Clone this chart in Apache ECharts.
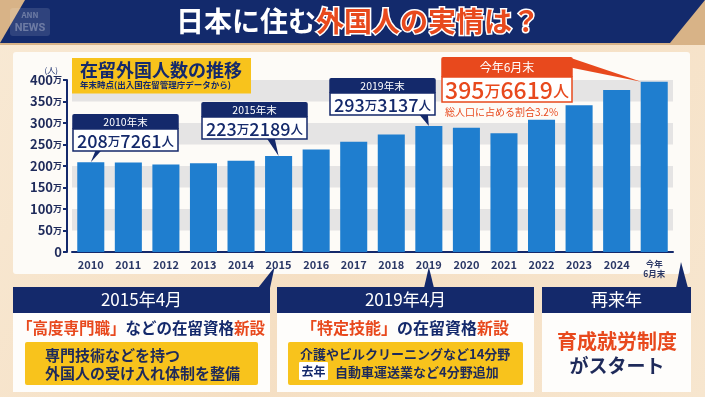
<!DOCTYPE html>
<html>
<head>
<meta charset="utf-8">
<script src="https://cdn.jsdelivr.net/npm/echarts@6/dist/echarts.min.js"></script>
<style>
  html, body { margin: 0; padding: 0; background: #f6e4cc; }
  #chart { width: 705px; height: 397px; }
</style>
</head>
<body>
<div id="chart"></div>
<script>
// 在留外国人数（万人）
const years = ['2010', '2011', '2012', '2013', '2014', '2015', '2016', '2017', '2018', '2019', '2020', '2021', '2022', '2023', '2024', '今年\n6月末']
const residents = [208.7, 207.9, 203.4, 206.6, 212.2, 223.2, 238.3, 256.2, 273.1, 293.3, 288.7, 276.1, 307.5, 341.1, 376.9, 395.7]
const yTicks = [0, 50, 100, 150, 200, 250, 300, 350, 400]

// 吹き出し
const noteIndex = [0, 5, 9]
const noteTitle = ['2010年末', '2015年末', '2019年末']
const noteMan = ['208', '223', '293']
const noteRest = ['7261', '2189', '3137']
const latestTitle = '今年6月末'
const latestMan = '395'
const latestRest = '6619'
const latestShare = '総人口に占める割合3.2%'

const NAVY = '#14296b'
const RED = '#e8491d'
const YELLOW = '#f8c31c'
const FONT = '"Noto Sans CJK JP", "Noto Sans", sans-serif'

const chart = echarts.init(document.getElementById('chart'))

chart.setOption({
  animation: false,
  title: {
    text: '在留外国人数の推移',
    subtext: '年末時点(出入国在留管理庁データから)',
    left: 72,
    top: 58,
    padding: [3, 9, 4, 8],
    itemGap: 2,
    backgroundColor: YELLOW,
    textStyle: { fontFamily: FONT, fontSize: 18, fontWeight: 'bold', color: NAVY },
    subtextStyle: { fontFamily: FONT, fontSize: 8.5, fontWeight: 'bold', color: NAVY }
  },
  grid: { left: 72, right: 32, top: 80, bottom: 145 },
  xAxis: {
    type: 'category',
    data: years,
    axisLine: { lineStyle: { color: NAVY, width: 2 } },
    axisTick: { show: false },
    axisLabel: {
      interval: 0,
      margin: 7,
      color: '#2b3866',
      fontFamily: FONT,
      fontSize: 11,
      fontWeight: 'bold',
      formatter: v => v.indexOf('\n') >= 0 ? v.split('\n').map(s => '{s|' + s + '}').join('\n') : v,
      rich: { s: { fontSize: 8.5, lineHeight: 10, fontWeight: 'bold', color: '#2b3866', fontFamily: FONT } }
    }
  },
  yAxis: {
    type: 'value',
    min: yTicks[0],
    max: yTicks[yTicks.length - 1],
    interval: yTicks[1] - yTicks[0],
    offset: 5,
    name: '(人)',
    nameGap: 5,
    nameTextStyle: { fontFamily: FONT, fontSize: 8, color: NAVY, align: 'right', padding: [0, 9, 0, 0] },
    axisLine: { show: true, lineStyle: { color: NAVY, width: 2 } },
    axisTick: { show: true, length: 4, lineStyle: { color: NAVY, width: 2 } },
    axisLabel: {
      margin: 5,
      formatter: v => v === 0 ? '{n|0}' : '{n|' + v + '}{u|万}',
      rich: {
        n: { fontFamily: FONT, fontSize: 13, fontWeight: 'bold', color: '#1e2a5a' },
        u: { fontFamily: FONT, fontSize: 9, fontWeight: 'bold', color: '#1e2a5a' }
      }
    },
    splitLine: { show: false },
    splitArea: { show: true, areaStyle: { color: ['rgba(0,0,0,0)', '#e5e4e4'] } }
  },
  series: [{
    type: 'bar',
    data: residents,
    barCategoryGap: '28%',
    itemStyle: { color: '#1f7ecf' }
  }]
})

// 吹き出しや下の解説パネル
const txt = (text, x, y, size, color, extra) => ({
  type: 'text', z: 20,
  style: Object.assign({ text, x, y, fill: color, fontFamily: FONT, fontSize: size, fontWeight: 'bold', align: 'center', verticalAlign: 'middle' }, extra || {})
})
const rect = (x, y, w, h, fill, z, extra) => ({
  type: 'rect', z: z, shape: { x, y, width: w, height: h, r: (extra && extra.r) || 0 },
  style: Object.assign({ fill }, extra && extra.style || {})
})
const poly = (points, fill, z) => ({ type: 'polygon', z: z, shape: { points }, style: { fill } })

const els = []

// 背景
els.push({ type: 'rect', z: -20, shape: { x: 0, y: 0, width: 705, height: 397 },
  style: { fill: new echarts.graphic.LinearGradient(0, 0, 1, 1, [
    { offset: 0, color: '#f8e9d4' }, { offset: 0.5, color: '#f5dfc3' }, { offset: 1, color: '#f7e6cf' }]) } })
els.push(rect(0, 0, 705, 45, '#d8b387', -19))
els.push(poly([[25, 0], [705, 0], [670, 43], [0, 43]], '#132a6c', -18))
els.push(rect(10, 8, 40, 28, 'rgba(255,255,255,0.12)', -17, { r: 3 }))
els.push(txt('ANN', 30, 15, 8, 'rgba(255,255,255,0.3)'))
els.push(txt('NEWS', 30, 28, 11, 'rgba(255,255,255,0.3)', { fontFamily: 'Roboto' }))
els.push({ type: 'text', z: 20, style: {
  text: '{w|日本に住む}{r|外国人の実情は？}', x: 358, y: 21, align: 'center', verticalAlign: 'middle',
  rich: {
    w: { fill: '#ffffff', fontFamily: FONT, fontSize: 28, fontWeight: 'bold' },
    r: { fill: RED, stroke: '#ffffff', lineWidth: 3, fontFamily: FONT, fontSize: 28, fontWeight: 'bold' }
  } } })

// グラフのパネル
els.push(rect(13, 52, 677, 222, '#fdfbf7', -10, { r: 3 }))

// 吹き出し（年末）
const noteBox = [
  { x: 73, y: 114, w: 105, base: [5, 11] },
  { x: 202, y: 102, w: 105, base: [-12, -4] },
  { x: 330, y: 78, w: 105, base: [-10, -1] }
]
noteIndex.forEach((idx, i) => {
  const b = noteBox[i]
  const tip = chart.convertToPixel({ seriesIndex: 0 }, [idx, residents[idx]])
  const hh = 15, bh = 22
  const by = b.y + hh + bh - 1
  els.push(poly([[tip[0] + b.base[0], by], [tip[0] + b.base[1], by], [tip[0], tip[1]]], NAVY, 12))
  els.push(rect(b.x, b.y + hh, b.w, bh, '#ffffff', 13, { style: { stroke: NAVY, lineWidth: 1.5 } }))
  els.push(rect(b.x - 0.75, b.y, b.w + 1.5, hh, NAVY, 14, { r: [2, 2, 0, 0] }))
  els.push(txt(noteTitle[i], b.x + b.w / 2, b.y + hh / 2 + 0.5, 10.5, '#ffffff', { fontWeight: 'normal' }))
  els.push({ type: 'text', z: 20, style: {
    text: '{d|' + noteMan[i] + '}{u|万}{d|' + noteRest[i] + '}{u|人}', x: b.x + b.w / 2, y: b.y + hh + bh / 2 + 1,
    align: 'center', verticalAlign: 'middle',
    rich: {
      d: { fill: NAVY, fontFamily: FONT, fontSize: 18, fontWeight: 500 },
      u: { fill: NAVY, fontFamily: FONT, fontSize: 12.5, fontWeight: 500 }
    } } })
})

// 吹き出し（今年6月末）
const last = residents.length - 1
const lastTop = chart.convertToPixel({ seriesIndex: 0 }, [last, residents[last]])
const lb = { x: 442, y: 57, w: 130, hh: 20, bh: 25 }
els.push(poly([[lb.x + lb.w - 4, lb.y], [lastTop[0] - 13, lastTop[1]], [lb.x + lb.w - 4, lb.y + 10]], RED, 12))
els.push(rect(lb.x, lb.y + lb.hh, lb.w, lb.bh, '#ffffff', 13, { style: { stroke: RED, lineWidth: 1.5 } }))
els.push(rect(lb.x - 0.75, lb.y, lb.w + 1.5, lb.hh, RED, 14, { r: [2, 2, 0, 0] }))
els.push(txt(latestTitle, lb.x + lb.w / 2, lb.y + lb.hh / 2 + 0.5, 12, '#ffffff', { fontWeight: 'normal' }))
els.push({ type: 'text', z: 20, style: {
  text: '{d|' + latestMan + '}{u|万}{d|' + latestRest + '}{u|人}', x: lb.x + lb.w / 2, y: lb.y + lb.hh + lb.bh / 2 + 1,
  align: 'center', verticalAlign: 'middle',
  rich: {
    d: { fill: RED, fontFamily: FONT, fontSize: 23, fontWeight: 500 },
    u: { fill: RED, fontFamily: FONT, fontSize: 16, fontWeight: 500 }
  } } })
els.push(txt(latestShare, 445, 112, 10, RED, { align: 'left', fontWeight: 'normal' }))

// 下の解説パネル
const panel = (x, w, title, tipX, tipY, base) => {
  const y = 287
  els.push(poly([[base[0], y + 1], [base[1], y + 1], [tipX, tipY]], NAVY, 12))
  els.push(rect(x, y, w, 105, '#fefdfb', 13))
  els.push(rect(x, y, w, 26, NAVY, 14))
  els.push(txt(title, x + w / 2, y + 13, 17, '#ffffff', { fontWeight: 'normal' }))
}
const x2015 = chart.convertToPixel({ xAxisIndex: 0 }, 5)
const x2019 = chart.convertToPixel({ xAxisIndex: 0 }, 9)
panel(13, 257, '2015年4月', x2015 - 4, 267, [258, 270])
panel(277, 257, '2019年4月', x2019, 267, [424, 434])
panel(542, 149, '再来年', 681, 262, [676, 688])

els.push({ type: 'text', z: 20, style: {
  text: '{r|「高度専門職」}{n|などの在留資格}{r|新設}', x: 141, y: 328, align: 'center', verticalAlign: 'middle',
  rich: {
    r: { fill: RED, fontFamily: FONT, fontSize: 15.5, fontWeight: 'bold' },
    n: { fill: NAVY, fontFamily: FONT, fontSize: 15.5, fontWeight: 'bold' }
  } } })
els.push(rect(25, 342, 233, 43, YELLOW, 15, { r: 2 }))
els.push(txt('専門技術などを持つ', 45, 355, 15, '#1e2a5a', { align: 'left' }))
els.push(txt('外国人の受け入れ体制を整備', 45, 373, 15, '#1e2a5a', { align: 'left' }))

els.push({ type: 'text', z: 20, style: {
  text: '{r|「特定技能」}{n|の在留資格}{r|新設}', x: 405, y: 328, align: 'center', verticalAlign: 'middle',
  rich: {
    r: { fill: RED, fontFamily: FONT, fontSize: 16, fontWeight: 'bold' },
    n: { fill: NAVY, fontFamily: FONT, fontSize: 16, fontWeight: 'bold' }
  } } })
els.push(rect(288, 342, 235, 43, YELLOW, 15, { r: 2 }))
els.push(txt('介護やビルクリーニングなど14分野', 300, 354, 13, '#1e2a5a', { align: 'left' }))
els.push(rect(299, 362, 29, 18, '#ffffff', 16, { r: 1 }))
els.push(txt('去年', 313.5, 371, 12, NAVY))
els.push(txt('自動車運送業など4分野追加', 335, 372, 13, '#1e2a5a', { align: 'left' }))

els.push(txt('育成就労制度', 617, 341, 20, RED))
els.push(txt('がスタート', 617, 366, 19, '#1e2a5a'))

chart.setOption({ graphic: els })
</script>
</body>
</html>
